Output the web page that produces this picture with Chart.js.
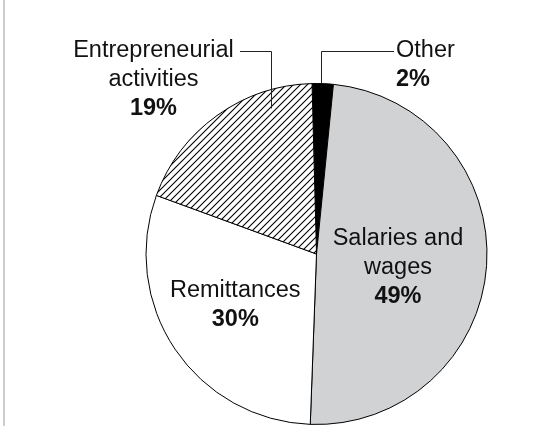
<!DOCTYPE html>
<html>
<head>
<meta charset="utf-8">
<script src="https://cdn.jsdelivr.net/npm/chart.js@4.4.1/dist/chart.umd.min.js"></script>
<style>
  html, body { margin: 0; padding: 0; background: #fff; }
  #wrap { position: relative; width: 547px; height: 426px; overflow: hidden; }
  #edge { position: absolute; left: 3px; top: 0; width: 2px; height: 426px; background: #cdcdcd; }
</style>
</head>
<body>
<div id="wrap">
  <canvas id="incomeChart" width="547" height="426"></canvas>
  <div id="edge"></div>
</div>
<script>
// sources of income, clockwise from the top
const categories = ['Other', 'Salaries and wages', 'Remittances', 'Entrepreneurial activities'];
const shares = [2, 49, 30, 19];
const labelLines = [['Other'], ['Salaries and', 'wages'], ['Remittances'], ['Entrepreneurial', 'activities']];

// hatch for the entrepreneurial slice
function makeHatch() {
    const c = document.createElement('canvas');
    c.width = 7; c.height = 7;
    const g = c.getContext('2d');
    g.fillStyle = '#fff';
    g.fillRect(0, 0, 7, 7);
    g.strokeStyle = '#000';
    g.lineWidth = 1.1;
    g.beginPath();
    g.moveTo(-1, 8); g.lineTo(8, -1);
    g.moveTo(-1, 1); g.lineTo(1, -1);
    g.moveTo(6, 8); g.lineTo(8, 6);
    g.stroke();
    return c;
}

const ctx = document.getElementById('incomeChart').getContext('2d');
const hatch = ctx.createPattern(makeHatch(), 'repeat');

// label placement, px from the pie centre
const labelBoxes = [
    { x: 79.5, y: -197, align: 'left', leader: { t: 0.4, r: 1.0, endX: 77.5 } },
    { x: 81.5, y: -9, align: 'center' },
    { x: -81.2, y: 43, align: 'center' },
    { x: -163, y: -197, align: 'center', leader: { t: 0.77, r: 0.894, endX: -76.5 } }
];
const elbowY = -203.3;
const lineGap = 29;

const sliceLabels = {
    id: 'sliceLabels',
    afterDatasetsDraw(chart) {
        const arcs = chart.getDatasetMeta(0).data;
        const c = chart.ctx;
        const cx = arcs[0].x, cy = arcs[0].y, R = arcs[0].outerRadius;
        c.save();
        arcs.forEach((arc, i) => {
            const box = labelBoxes[i];
            if (box.leader) {
                const L = box.leader;
                const a = arc.startAngle + L.t * (arc.endAngle - arc.startAngle);
                const ax = cx + Math.cos(a) * R * L.r;
                const ay = cy + Math.sin(a) * R * L.r;
                c.strokeStyle = '#222';
                c.lineWidth = 1;
                c.beginPath();
                c.moveTo(Math.round(ax) + 0.5, ay);
                c.lineTo(Math.round(ax) + 0.5, Math.round(cy + elbowY) + 0.5);
                c.lineTo(cx + L.endX, Math.round(cy + elbowY) + 0.5);
                c.stroke();
            }
            c.fillStyle = '#111';
            c.textAlign = box.align;
            c.textBaseline = 'alphabetic';
            const lines = labelLines[i];
            c.font = '23.5px "Liberation Sans", Arial, sans-serif';
            lines.forEach((t, k) => c.fillText(t, cx + box.x, cy + box.y + k * lineGap));
            c.font = 'bold 23.5px "Liberation Sans", Arial, sans-serif';
            c.fillText(shares[i] + '%', cx + box.x, cy + box.y + lines.length * lineGap);
        });
        c.restore();
    }
};

new Chart(ctx, {
    type: 'pie',
    data: {
        labels: categories,
        datasets: [{
            data: shares,
            backgroundColor: ['#000000', '#d1d2d4', '#ffffff', hatch],
            borderColor: '#000',
            borderWidth: 1
        }]
    },
    options: {
        responsive: false,
        animation: false,
        rotation: -1.5,
        layout: { padding: { left: 145.5, right: 59.5, top: 83, bottom: 1 } },
        plugins: { legend: { display: false }, tooltip: { enabled: false } }
    },
    plugins: [sliceLabels]
});
</script>
</body>
</html>
